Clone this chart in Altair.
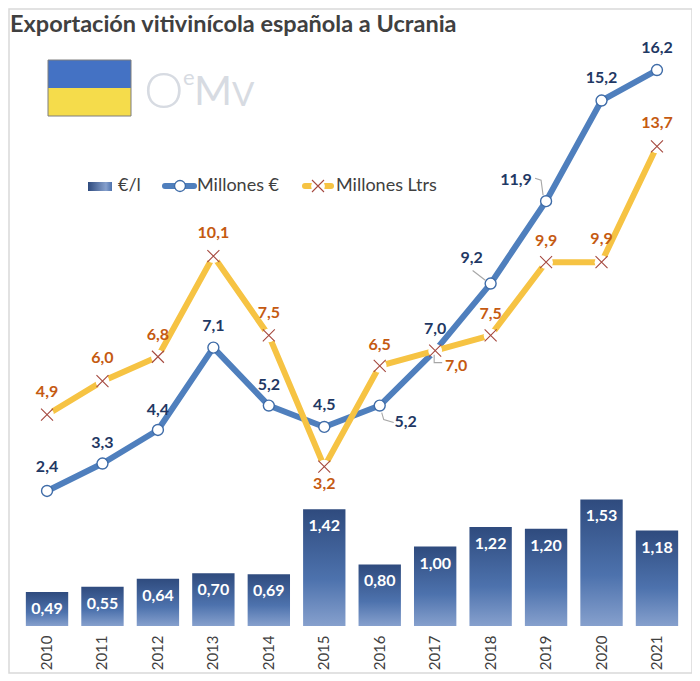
import altair as alt
import pandas as pd

TITLE = "Exportación vitivinícola española a Ucrania"
years = [str(y) for y in range(2010, 2022)]
euros = [2.4, 3.3, 4.4, 7.1, 5.2, 4.5, 5.2, 7.0, 9.2, 11.9, 15.2, 16.2]
litres = [4.9, 6.0, 6.8, 10.1, 7.5, 3.2, 6.5, 7.0, 7.5, 9.9, 9.9, 13.7]
price = [0.49, 0.55, 0.64, 0.70, 0.69, 1.42, 0.80, 1.00, 1.22, 1.20, 1.53, 1.18]

# label placement relative to each point (px)
euro_offsets = [(0, -24), (0, -21), (0, -20), (0, -22), (0, -21), (0, -22), (26, 16), (0, -22), (-19, -26), (-30, -21), (0, -23), (0, -22)]
litre_offsets = [(0, -23), (0, -23), (0, -22), (0, -23), (0, -22), (0, 17), (0, -21), (21, 15), (0, -21), (0, -21), (0, -23), (0, -23)]

# leader lines, drawn relative to the point they belong to (px)
euro_leaders = {"2016": "M2,7L4,14L14,17", "2017": "M-1,4L-1,12L7,12", "2018": "M-5,-3L-18,-13", "2019": "M-3,-6L-5,-21L-11,-23"}

NAVY, ORANGE, BLUE, YELLOW = "#1f3864", "#c55a11", "#4f7fbd", "#f6c343"
RING, CROSS, GREY, FONT = "#3f6ca8", "#a5493f", "#404040", "Lato"
W, H = 684, 618

df = pd.DataFrame({"year": years, "euros": euros, "litres": litres, "price": price})
df["euro_txt"] = [f"{v:.1f}".replace(".", ",") for v in euros]
df["litre_txt"] = [f"{v:.1f}".replace(".", ",") for v in litres]
df["price_txt"] = [f"{v:.2f}".replace(".", ",") for v in price]

x_scale = alt.Scale(domain=years, range=[11.3, 676.7], paddingInner=0.236, paddingOuter=0.118)
X = alt.X("year:O", scale=x_scale, title=None, axis=alt.Axis(
    labelAngle=270, labelFont=FONT, labelFontSize=15, labelColor=GREY, labelPadding=9,
    ticks=False, domain=False, grid=False))
val_scale = alt.Scale(domain=[-2.026, 18.233], nice=False, zero=False)
bar_scale = alt.Scale(domain=[0.108, 7.052], nice=False, zero=False, clamp=True)


def Y(field):
    return alt.Y(f"{field}:Q", scale=val_scale, axis=None)


X_MARK = "M-1,-1L1,1M-1,1L1,-1"
bar_grad = alt.Gradient(gradient="linear", x1=0, x2=0, y1=0, y2=1, stops=[
    alt.GradientStop(color="#2f4b7e", offset=0),
    alt.GradientStop(color="#4d72ad", offset=0.6),
    alt.GradientStop(color="#86a0cd", offset=1)])
swatch_grad = alt.Gradient(gradient="linear", x1=0, x2=1, y1=0, y2=0, stops=[
    alt.GradientStop(color="#2f4b7e", offset=0),
    alt.GradientStop(color="#86a0cd", offset=0.75),
    alt.GradientStop(color="#4d72ad", offset=1)])

layers = []
# frame
one = alt.Data(values=[{"a": 1}])
layers.append(alt.Chart(one).mark_rect(fill="transparent", stroke="#d9d9d9", strokeWidth=1.5).encode(
    x=alt.value(1), x2=alt.value(684), y=alt.value(1), y2=alt.value(665)))

# bars and year axis
layers.append(alt.Chart(df).mark_bar(color=bar_grad).encode(
    x=X, y=alt.Y("price:Q", scale=bar_scale, axis=None)))
layers.append(alt.Chart(df).mark_text(font=FONT, fontSize=16, fontWeight="bold", color="white", dy=17).encode(
    x=X, y=alt.Y("price:Q", scale=bar_scale, axis=None), text="price_txt:N"))

# blue line with rings
layers.append(alt.Chart(df).mark_line(color=BLUE, strokeWidth=6, strokeCap="round", strokeJoin="round").encode(x=X, y=Y("euros")))
layers.append(alt.Chart(df).mark_point(shape="circle", size=120, filled=True, fill="white", stroke=RING, strokeWidth=1.4, opacity=1).encode(x=X, y=Y("euros")))

# yellow line with gaps around the crosses
disc = dict(shape="circle", size=190, filled=True, color="white", opacity=1, strokeWidth=0)
layers.append(alt.Chart(df).mark_line(color=YELLOW, strokeWidth=6).encode(x=X, y=Y("litres")))
layers.append(alt.Chart(df).mark_point(**disc).encode(x=X, y=Y("litres")))
layers.append(alt.Chart(df).mark_point(shape=X_MARK, size=144, filled=False, color=CROSS, strokeWidth=1.1, opacity=1).encode(x=X, y=Y("litres")))

# leader lines
for yr, path in euro_leaders.items():
    layers.append(alt.Chart(df[df.year == yr]).mark_point(shape=path, size=4, filled=False, color="#a6a6a6", strokeWidth=1.1, opacity=1).encode(x=X, y=Y("euros")))

# value labels
for field, txt, col, offsets in [("euros", "euro_txt", NAVY, euro_offsets), ("litres", "litre_txt", ORANGE, litre_offsets)]:
    for yr, (dx, dy) in zip(years, offsets):
        layers.append(alt.Chart(df[df.year == yr]).mark_text(font=FONT, fontSize=16, fontWeight="bold", color=col, dx=dx, dy=dy).encode(
            x=X, y=Y(field), text=f"{txt}:N"))


def px_text(text, x, y, size, color=GREY, weight="normal", font=FONT, align="left"):
    return alt.Chart(one).mark_text(text=text, font=font, fontSize=size, color=color, fontWeight=weight, align=align, baseline="middle").encode(
        x=alt.value(x), y=alt.value(y))


def px_rect(x, x2, y, y2, fill, stroke=None):
    kw = dict(stroke=stroke, strokeWidth=1) if stroke else dict(strokeWidth=0)
    return alt.Chart(one).mark_rect(fill=fill, **kw).encode(x=alt.value(x), x2=alt.value(x2), y=alt.value(y), y2=alt.value(y2))


# flag
layers += [px_rect(40, 123, 52, 80, "#4472c4"), px_rect(40, 123, 80, 108, "#f5dc4b"),
           alt.Chart(one).mark_rect(fill="transparent", stroke="#7f7f7f", strokeWidth=1).encode(x=alt.value(40), x2=alt.value(123), y=alt.value(52), y2=alt.value(108))]

# logo
LOGO = "#d7dbe2"
layers += [px_text("O", 136, 85, 50, LOGO, 300), px_text("e", 175, 70, 22, LOGO, 400),
           px_text("M", 186, 85, 41, LOGO, 400), px_text("V", 224, 88, 33, LOGO, 400)]

# legend
LY = 178
layers.append(px_rect(80, 104, LY - 4, LY + 5, swatch_grad))
layers.append(px_text("€/l", 110, LY, 18))
layers.append(alt.Chart(one).mark_rule(color=BLUE, strokeWidth=6, strokeCap="round").encode(x=alt.value(157), x2=alt.value(186), y=alt.value(LY)))
layers.append(alt.Chart(one).mark_point(shape="circle", size=120, filled=True, fill="white", stroke=RING, strokeWidth=1.4, opacity=1).encode(x=alt.value(172), y=alt.value(LY)))
layers.append(px_text("Millones €", 189, LY, 18))
layers.append(alt.Chart(one).mark_rule(color=YELLOW, strokeWidth=6, strokeCap="round").encode(x=alt.value(297), x2=alt.value(323), y=alt.value(LY)))
layers.append(alt.Chart(one).mark_point(**disc).encode(x=alt.value(310), y=alt.value(LY)))
layers.append(alt.Chart(one).mark_point(shape=X_MARK, size=144, filled=False, color=CROSS, strokeWidth=1.1, opacity=1).encode(x=alt.value(310), y=alt.value(LY)))
layers.append(px_text("Millones Ltrs", 328, LY, 18))

chart = alt.layer(*layers).resolve_scale(y="independent").properties(
    width=W, height=H,
    title=alt.TitleParams(TITLE, anchor="start", frame="group", offset=-28, dx=2, font=FONT, fontSize=23.5, fontWeight="bold", color=GREY),
    autosize=alt.AutoSizeParams(type="none"),
    padding={"left": 0, "top": 0, "right": 0, "bottom": 48},
    background="white",
).configure_view(stroke=None)

chart.save("out.html", embed_options={"renderer": "svg", "actions": False})
